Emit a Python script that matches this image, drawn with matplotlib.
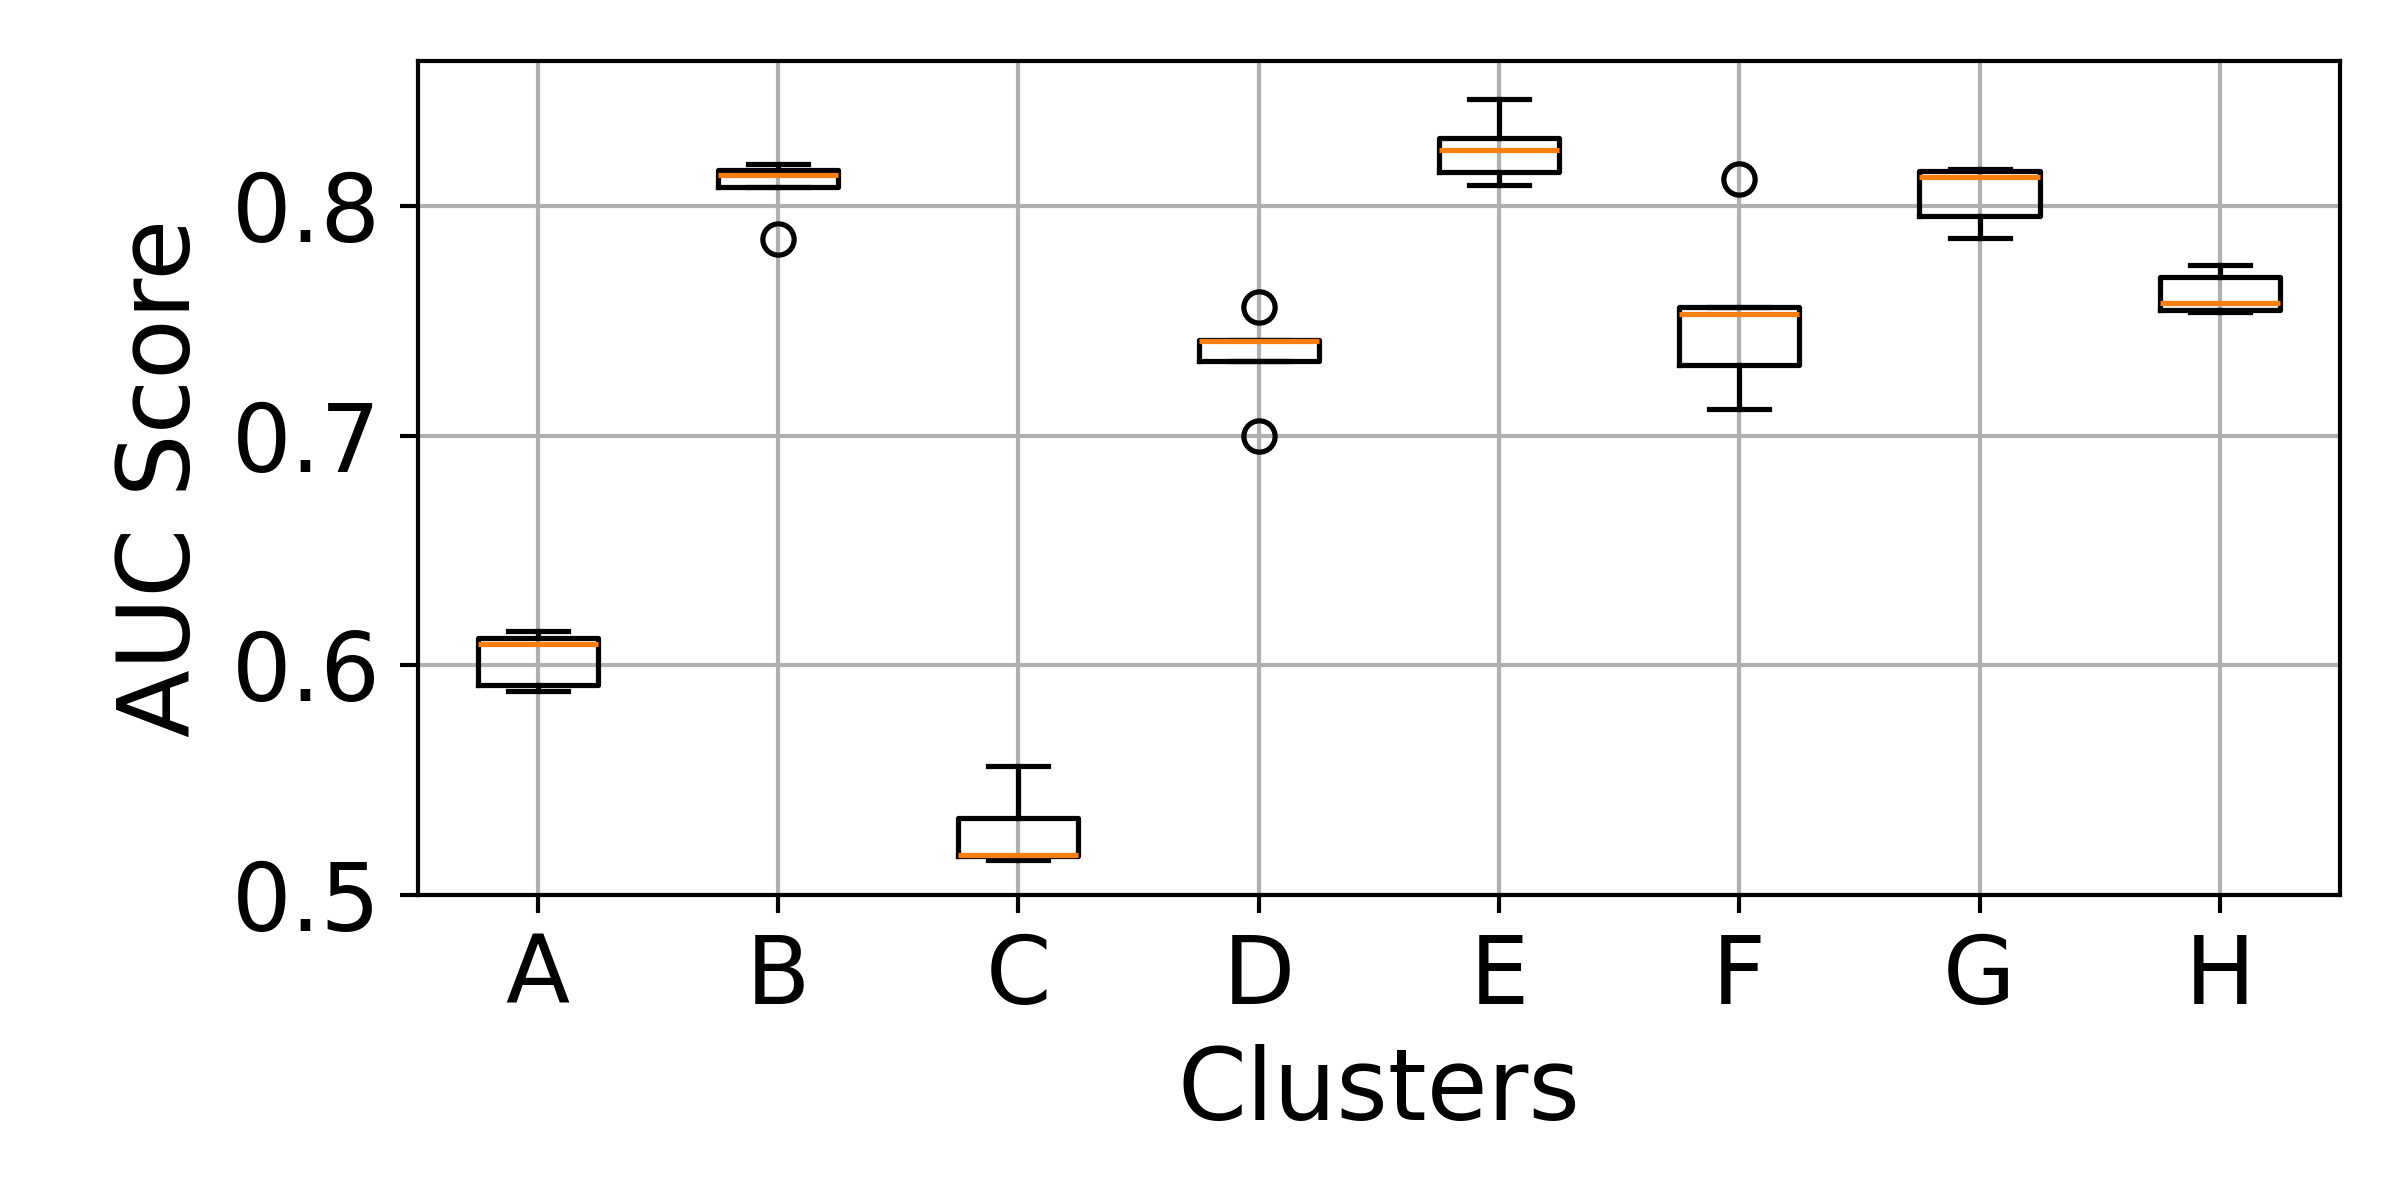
import matplotlib

matplotlib.use("Agg")
import matplotlib.pyplot as plt

# per-cluster AUC scores (5 runs each)
clusters = ["A", "B", "C", "D", "E", "F", "G", "H"]
auc_a = [0.5887, 0.5917, 0.6095, 0.6118, 0.6151]
auc_b = [0.7856, 0.8083, 0.8134, 0.8157, 0.8184]
auc_c = [0.5154, 0.5172, 0.5174, 0.5338, 0.5563]
auc_d = [0.7000, 0.7327, 0.7412, 0.7418, 0.7562]
auc_e = [0.8091, 0.8148, 0.8243, 0.8296, 0.8465]
auc_f = [0.7117, 0.7310, 0.7530, 0.7559, 0.8119]
auc_g = [0.7861, 0.7958, 0.8128, 0.8151, 0.8162]
auc_h = [0.7539, 0.7546, 0.7578, 0.7691, 0.7743]
scores = [auc_a, auc_b, auc_c, auc_d, auc_e, auc_f, auc_g, auc_h]

fig, ax = plt.subplots(figsize=(6.4, 3.2), dpi=375)
ax.boxplot(scores, tick_labels=clusters)
ax.set_ylim(bottom=0.5)
ax.set_xlabel("Clusters", fontsize=19)
ax.set_ylabel("AUC Score", fontsize=19)
ax.tick_params(labelsize=18)
ax.grid(True)
fig.subplots_adjust(left=0.174, right=0.975, top=0.949, bottom=0.254)
fig.savefig("out.png", dpi=375)
plt.close(fig)
